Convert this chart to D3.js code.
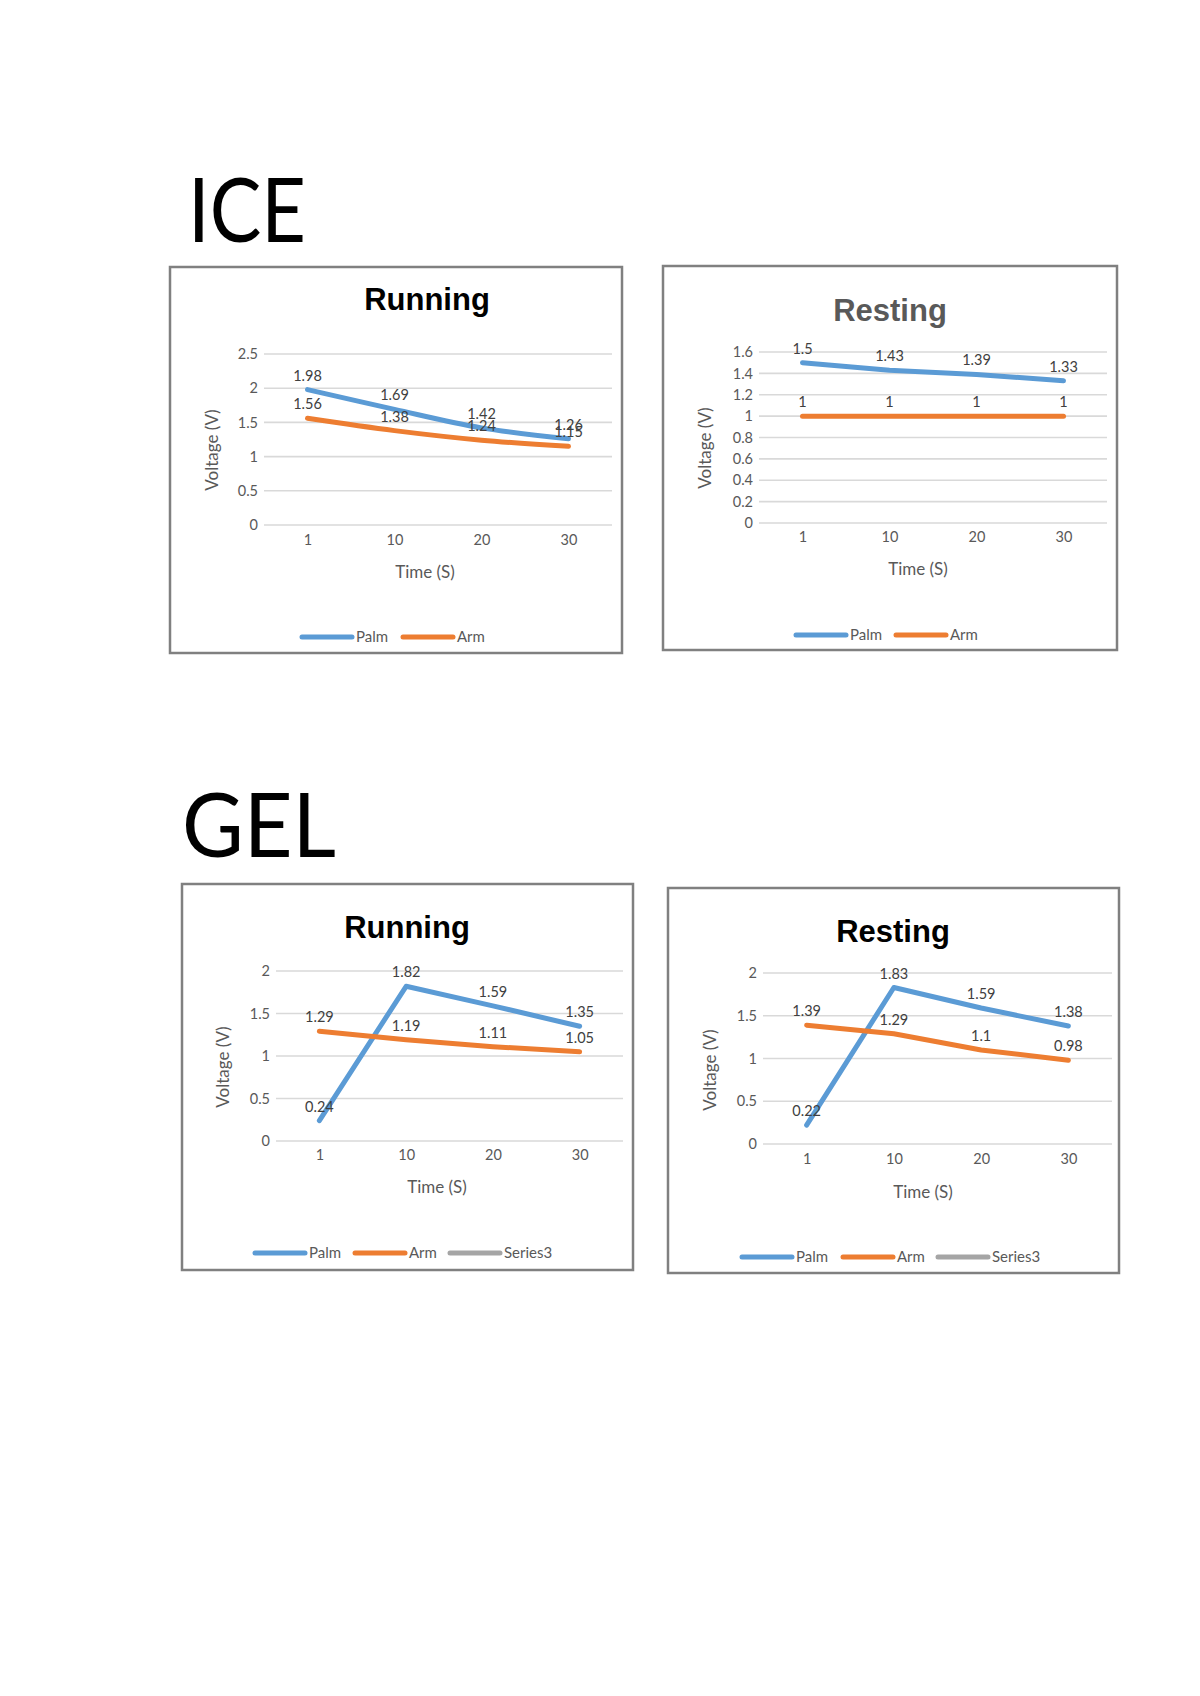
<!DOCTYPE html>
<html><head><meta charset="utf-8">
<script src="https://cdn.jsdelivr.net/npm/d3@7"></script>
<style>
html,body{margin:0;padding:0;background:#fff;}
svg{display:block;}
</style></head>
<body>
<svg id="page" width="1200" height="1696"></svg>
<script>
// ---- data ----
const categories = ["1", "10", "20", "30"];
const seriesNames = ["Palm", "Arm", "Series3"];

const iceRunningPalm = [1.98, 1.69, 1.42, 1.26];
const iceRunningArm  = [1.56, 1.38, 1.24, 1.15];
const iceRestingPalm = [1.5, 1.43, 1.39, 1.33];
const iceRestingArm  = [1, 1, 1, 1];
const gelRunningPalm = [0.24, 1.82, 1.59, 1.35];
const gelRunningArm  = [1.29, 1.19, 1.11, 1.05];
const gelRestingPalm = [0.22, 1.83, 1.59, 1.38];
const gelRestingArm  = [1.39, 1.29, 1.1, 0.98];

const iceRunningTicks = [0, 0.5, 1, 1.5, 2, 2.5];
const iceRestingTicks = [0, 0.2, 0.4, 0.6, 0.8, 1, 1.2, 1.4, 1.6];
const gelTicks = [0, 0.5, 1, 1.5, 2];

const titles = ["Running", "Resting", "Running", "Resting"];
const sectionLabels = ["ICE", "GEL"];
const xAxisTitle = "Time (S)";
const yAxisTitle = "Voltage (V)";

// ---- styles / layout ----
const colors = {Palm: "#5B9BD5", Arm: "#ED7D31", Series3: "#A5A5A5"};
const FONT = "Lato, 'Open Sans', sans-serif";
const svg = d3.select("#page");

svg.append("text").attr("x", 188).attr("y", 242).attr("font-family", FONT)
  .attr("font-size", 90).attr("fill", "#000")
  .attr("textLength", 118).attr("lengthAdjust", "spacingAndGlyphs").text(sectionLabels[0]);
svg.append("text").attr("x", 182).attr("y", 857).attr("font-family", FONT)
  .attr("font-size", 90).attr("fill", "#000")
  .attr("textLength", 154).attr("lengthAdjust", "spacingAndGlyphs").text(sectionLabels[1]);

const charts = [
  {box:[170,267,622,653], title:titles[0], titleColor:"#000", titleX:427, titleY:310,
   grid:[264,612,354,525], ticks:iceRunningTicks, series:[iceRunningPalm, iceRunningArm],
   legend:["Palm","Arm"], legendY:637, legendX:[302,403], smooth:true,
   yTitle:[212,450], xTitle:[425,578], xLabelY:540},
  {box:[663,266,1117,650], title:titles[1], titleColor:"#595959", titleX:890, titleY:321,
   grid:[759,1107,352,523], ticks:iceRestingTicks, series:[iceRestingPalm, iceRestingArm],
   legend:["Palm","Arm"], legendY:635, legendX:[796,896], smooth:false,
   yTitle:[705,448], xTitle:[918,575], xLabelY:537},
  {box:[182,884,633,1270], title:titles[2], titleColor:"#000", titleX:407, titleY:938,
   grid:[276,623,971,1141], ticks:gelTicks, series:[gelRunningPalm, gelRunningArm],
   legend:["Palm","Arm","Series3"], legendY:1253, legendX:[255,355,450], smooth:false,
   yTitle:[223,1067], xTitle:[437,1193], xLabelY:1155},
  {box:[668,888,1119,1273], title:titles[3], titleColor:"#000", titleX:893, titleY:942,
   grid:[763,1112,973,1144], ticks:gelTicks, series:[gelRestingPalm, gelRestingArm],
   legend:["Palm","Arm","Series3"], legendY:1257, legendX:[742,843,938], smooth:false,
   yTitle:[710,1070], xTitle:[923,1198], xLabelY:1159}
];

charts.forEach(c => {
  const g = svg.append("g");
  const [bx0, by0, bx1, by1] = c.box;
  g.append("rect").attr("x", bx0).attr("y", by0).attr("width", bx1 - bx0).attr("height", by1 - by0)
    .attr("fill", "#fff").attr("stroke", "#808080").attr("stroke-width", 2.5);

  g.append("text").attr("x", c.titleX).attr("y", c.titleY).attr("text-anchor", "middle")
    .attr("font-family", "'Liberation Sans', Arial, sans-serif").attr("font-weight", "bold")
    .attr("font-size", 31).attr("fill", c.titleColor).text(c.title);

  const [gx0, gx1, gyTop, gyBot] = c.grid;
  const x = d3.scalePoint().domain(categories).range([gx0, gx1]).padding(0.5);
  const y = d3.scaleLinear().domain([0, d3.max(c.ticks)]).range([gyBot, gyTop]);

  // gridlines
  g.append("g").selectAll("line").data(c.ticks).join("line")
    .attr("x1", gx0).attr("x2", gx1).attr("y1", d => y(d)).attr("y2", d => y(d))
    .attr("stroke", "#D9D9D9").attr("stroke-width", 1.6);

  // y axis labels
  const yAxis = d3.axisLeft(y).tickValues(c.ticks).tickSize(0).tickPadding(6).tickFormat(d3.format("~g"));
  const ya = g.append("g").attr("transform", `translate(${gx0},0)`).call(yAxis);
  ya.select(".domain").remove();
  ya.selectAll("text").attr("font-family", FONT).attr("font-size", 14.5).attr("fill", "#595959");

  // x axis labels
  const xAxis = d3.axisBottom(x).tickSize(0).tickPadding(0);
  const xa = g.append("g").attr("transform", `translate(0,${c.xLabelY})`).call(xAxis);
  xa.select(".domain").remove();
  xa.selectAll("text").attr("font-family", FONT).attr("font-size", 14.5).attr("fill", "#595959")
    .attr("dy", "0.35em").attr("y", 0);

  // axis titles
  g.append("text").attr("transform", `translate(${c.yTitle[0]},${c.yTitle[1]}) rotate(-90)`)
    .attr("text-anchor", "middle").attr("dy", "0.35em").attr("font-family", FONT)
    .attr("font-size", 17).attr("fill", "#595959").text(yAxisTitle);
  g.append("text").attr("x", c.xTitle[0]).attr("y", c.xTitle[1]).attr("text-anchor", "middle")
    .attr("font-family", FONT).attr("font-size", 17).attr("fill", "#595959").text(xAxisTitle);

  // lines
  const line = d3.line().x((d, i) => x(categories[i])).y(d => y(d))
    .curve(c.smooth ? d3.curveCatmullRom.alpha(0.5) : d3.curveLinear);
  c.series.forEach((vals, si) => {
    g.append("path").datum(vals).attr("d", line).attr("fill", "none")
      .attr("stroke", colors[seriesNames[si]]).attr("stroke-width", 5)
      .attr("stroke-linecap", "round").attr("stroke-linejoin", "round");
  });
  // data labels
  c.series.forEach((vals, si) => {
    g.append("g").selectAll("text").data(vals).join("text")
      .attr("x", (d, i) => x(categories[i])).attr("y", d => y(d) - 9)
      .attr("text-anchor", "middle").attr("font-family", FONT).attr("font-size", 14.5)
      .attr("fill", "#404040").text(d => d3.format("~g")(d));
  });

  // legend
  c.legend.forEach((name, li) => {
    const lx = c.legendX[li];
    g.append("line").attr("x1", lx).attr("x2", lx + 50).attr("y1", c.legendY).attr("y2", c.legendY)
      .attr("stroke", colors[name]).attr("stroke-width", 5).attr("stroke-linecap", "round");
    g.append("text").attr("x", lx + 54).attr("y", c.legendY).attr("dy", "0.35em")
      .attr("font-family", FONT).attr("font-size", 15).attr("fill", "#595959").text(name);
  });
});
</script>
</body></html>
